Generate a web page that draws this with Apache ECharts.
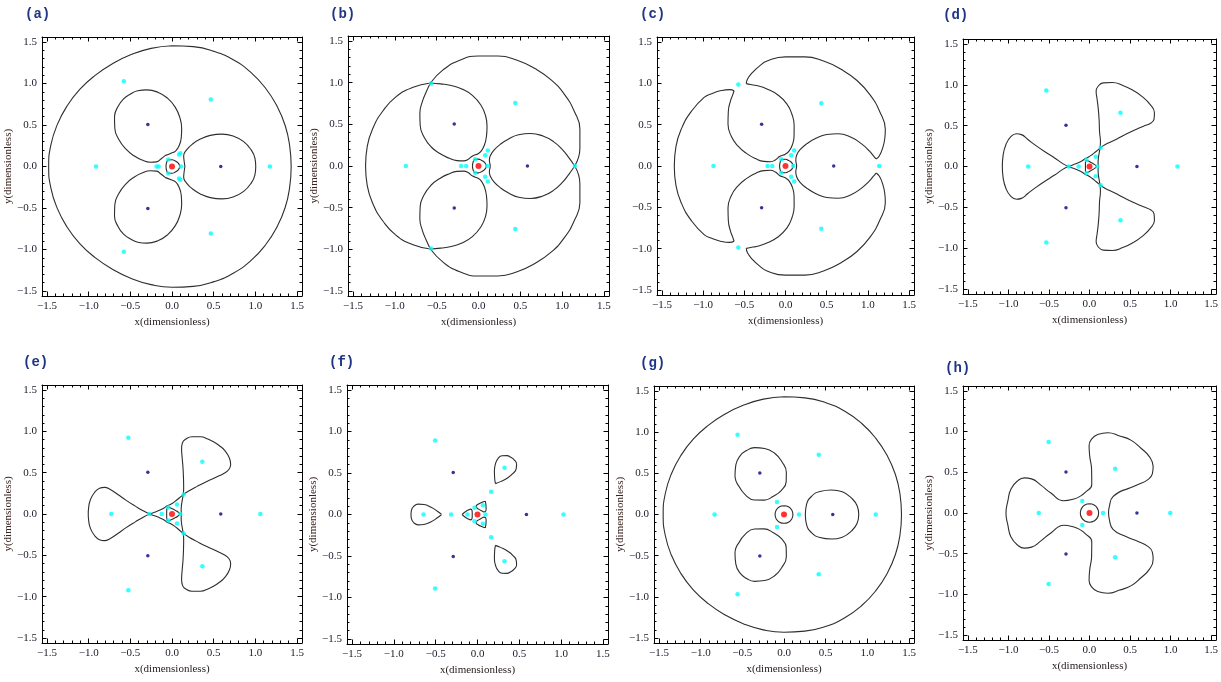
<!DOCTYPE html>
<html>
<head>
<meta charset="utf-8">
<script src="https://cdn.jsdelivr.net/npm/echarts@6/dist/echarts.min.js"></script>
<style>
  html, body { margin: 0; padding: 0; background: #fff; }
  #main { width: 1221px; height: 682px; }
</style>
</head>
<body>
<div id="main"></div>
<script>
// axis ticks
var MAJOR_TICKS = [-1.5, -1, -0.5, 0, 0.5, 1, 1.5];
var MINOR_TICKS = [-1.4, -1.3, -1.2, -1.1, -0.9, -0.8, -0.7, -0.6, -0.4, -0.3, -0.2, -0.1,
                   0.1, 0.2, 0.3, 0.4, 0.6, 0.7, 0.8, 0.9, 1.1, 1.2, 1.3, 1.4];
var PANEL_LABELS = ['(a)', '(b)', '(c)', '(d)', '(e)', '(f)', '(g)', '(h)'];

// bodies
var CENTRAL = [[0, 0]];
var PRIMARIES = [[0.585, 0], [-0.29, 0.505], [-0.29, -0.505]];

var CYAN_A = [[1.175, 0], [0.466, 0.808], [0.466, -0.808], [-0.912, 0], [-0.578, 1.026], [-0.578, -1.026],
  [0.108, 0], [-0.044, 0.084], [-0.044, -0.084], [-0.185, 0], [-0.16, 0], [0.085, 0.145], [0.1, 0.16], [0.085, -0.145], [0.1, -0.16]];
var CYAN_B = [[1.152, 0], [0.44, 0.755], [0.44, -0.755], [-0.868, 0], [-0.568, 0.99], [-0.568, -0.99],
  [0.104, 0], [-0.04, 0.08], [-0.04, -0.08], [-0.208, 0], [-0.148, 0], [0.08, 0.128], [0.112, 0.186], [0.08, -0.128], [0.112, -0.186]];
var CYAN_C = [[1.137, 0], [0.435, 0.758], [0.435, -0.758], [-0.875, 0], [-0.573, 0.986], [-0.573, -0.986],
  [0.093, 0], [-0.052, 0.081], [-0.052, -0.081], [-0.218, 0], [-0.161, 0], [0.069, 0.129], [0.105, 0.188], [0.069, -0.129], [0.105, -0.188]];
var CYAN_D = [[1.085, 0], [0.382, 0.659], [0.382, -0.659], [-0.756, 0], [-0.533, 0.93], [-0.533, -0.93],
  [0.098, 0], [-0.037, 0.079], [-0.037, -0.079], [-0.256, 0], [-0.134, 0], [0.077, 0.118], [0.138, 0.23], [0.077, -0.118], [0.138, -0.23]];
var CYAN_E = [[1.06, 0], [0.364, 0.633], [0.364, -0.633], [-0.728, 0], [-0.524, 0.922], [-0.524, -0.922],
  [0.1, 0], [-0.044, 0.078], [-0.044, -0.078], [-0.272, 0], [-0.124, 0], [0.06, 0.114], [0.14, 0.235], [0.06, -0.114], [0.14, -0.235]];
var CYAN_F = [[1.028, 0], [0.323, 0.564], [0.323, -0.564], [-0.645, 0], [-0.506, 0.892], [-0.506, -0.892],
  [0.096, 0], [-0.036, 0.08], [-0.036, -0.08], [-0.315, 0], [-0.12, 0], [0.064, 0.11], [0.163, 0.275], [0.064, -0.11], [0.163, -0.275]];
var CYAN_G = [[1.101, 0], [0.417, 0.726], [0.417, -0.726], [-0.833, 0], [-0.557, 0.969], [-0.557, -0.969],
  [0.18, 0], [-0.084, 0.151], [-0.084, -0.151]];
var CYAN_H = [[0.996, 0], [0.317, 0.543], [0.317, -0.543], [-0.626, 0], [-0.504, 0.873], [-0.504, -0.873],
  [0.167, 0], [-0.089, 0.148], [-0.089, -0.148]];

// zero-velocity curves, panel (a)
var A_OUTER = [[0,1.455],[-0.251,1.423],[-0.49,1.348],[-0.715,1.238],[-0.922,1.098],[-1.107,0.929],[-1.26,0.728],[-1.378,0.501],[-1.454,0.257],[-1.48,0],[-1.454,-0.257],[-1.378,-0.501],[-1.26,-0.728],[-1.107,-0.929],[-0.922,-1.098],[-0.715,-1.238],[-0.49,-1.348],[-0.251,-1.423],[0,-1.455],[0.255,-1.444],[0.505,-1.387],[0.74,-1.282],[0.949,-1.131],[1.123,-0.943],[1.26,-0.728],[1.358,-0.494],[1.412,-0.249],[1.43,0],[1.412,0.249],[1.358,0.494],[1.26,0.728],[1.123,0.943],[0.949,1.131],[0.74,1.282],[0.505,1.387],[0.255,1.444],[0,1.455]];
var RING_ABC = [[0.095,0],[0.075,0.04],[0.04,0.065],[0,0.082],[-0.045,0.08],[-0.065,0.045],[-0.072,0],[-0.065,-0.045],[-0.045,-0.08],[0,-0.082],[0.04,-0.065],[0.075,-0.04],[0.095,0]];
var A_LOBE_R = [[0.155,0],[0.145,0.07],[0.14,0.13],[0.175,0.2],[0.245,0.27],[0.34,0.33],[0.46,0.375],[0.6,0.39],[0.74,0.365],[0.86,0.3],[0.95,0.2],[0.995,0.1],[1.005,0],[0.995,-0.1],[0.95,-0.2],[0.86,-0.3],[0.74,-0.365],[0.6,-0.39],[0.46,-0.375],[0.34,-0.33],[0.245,-0.27],[0.175,-0.2],[0.14,-0.13],[0.145,-0.07],[0.155,0]];
var A_LOBE_U = [[-0.078,0.134],[-0.133,0.091],[-0.183,0.056],[-0.261,0.052],[-0.356,0.077],[-0.456,0.129],[-0.555,0.211],[-0.638,0.325],[-0.686,0.458],[-0.69,0.595],[-0.648,0.723],[-0.584,0.812],[-0.503,0.87],[-0.411,0.912],[-0.302,0.923],[-0.17,0.895],[-0.054,0.823],[0.038,0.715],[0.095,0.586],[0.116,0.459],[0.111,0.347],[0.086,0.252],[0.043,0.186],[-0.012,0.161],[-0.078,0.134]];
var A_LOBE_D = [[-0.078,-0.134],[-0.133,-0.091],[-0.183,-0.056],[-0.261,-0.052],[-0.356,-0.077],[-0.456,-0.129],[-0.555,-0.211],[-0.638,-0.325],[-0.686,-0.458],[-0.69,-0.595],[-0.648,-0.723],[-0.584,-0.812],[-0.503,-0.87],[-0.411,-0.912],[-0.302,-0.923],[-0.17,-0.895],[-0.054,-0.823],[0.038,-0.715],[0.095,-0.586],[0.116,-0.459],[0.111,-0.347],[0.086,-0.252],[0.043,-0.186],[-0.012,-0.161],[-0.078,-0.134]];

// panel (b)
var B_ARC_TOP = [[1.15,0],[1.212,0.214],[1.212,0.441],[1.143,0.66],[1.026,0.861],[0.868,1.034],[0.675,1.169],[0.462,1.269],[0.233,1.32],[0,1.32],[-0.224,1.27],[-0.421,1.156],[-0.575,0.996]];
var B_ARC_LEFT = [[-0.575,0.996],[-0.791,0.942],[-0.988,0.829],[-1.143,0.66],[-1.26,0.458],[-1.33,0.235],[-1.35,0],[-1.33,-0.235],[-1.26,-0.458],[-1.143,-0.66],[-0.988,-0.829],[-0.791,-0.942],[-0.575,-0.996]];
var B_ARC_BOTTOM = [[-0.575,-0.996],[-0.421,-1.156],[-0.224,-1.27],[0,-1.32],[0.233,-1.32],[0.462,-1.269],[0.675,-1.169],[0.868,-1.034],[1.026,-0.861],[1.143,-0.66],[1.212,-0.441],[1.212,-0.214],[1.15,0]];
var B_LOBE_R = [[1.15,0],[1.08,0.1],[1.0,0.2],[0.9,0.29],[0.77,0.36],[0.62,0.39],[0.48,0.375],[0.36,0.325],[0.26,0.26],[0.185,0.19],[0.14,0.12],[0.13,0.07],[0.14,0],[0.13,-0.07],[0.14,-0.12],[0.185,-0.19],[0.26,-0.26],[0.36,-0.325],[0.48,-0.375],[0.62,-0.39],[0.77,-0.36],[0.9,-0.29],[1.0,-0.2],[1.08,-0.1],[1.15,0]];
var B_LOBE_U = [[-0.575,0.996],[-0.627,0.885],[-0.673,0.766],[-0.701,0.634],[-0.697,0.487],[-0.648,0.342],[-0.565,0.228],[-0.462,0.149],[-0.355,0.095],[-0.257,0.065],[-0.174,0.061],[-0.126,0.078],[-0.07,0.121],[-0.004,0.148],[0.034,0.181],[0.072,0.255],[0.095,0.355],[0.102,0.474],[0.085,0.603],[0.028,0.732],[-0.073,0.847],[-0.199,0.924],[-0.327,0.966],[-0.453,0.985],[-0.575,0.996]];
var B_LOBE_D = [[-0.575,-0.996],[-0.627,-0.885],[-0.673,-0.766],[-0.701,-0.634],[-0.697,-0.487],[-0.648,-0.342],[-0.565,-0.228],[-0.462,-0.149],[-0.355,-0.095],[-0.257,-0.065],[-0.174,-0.061],[-0.126,-0.078],[-0.07,-0.121],[-0.004,-0.148],[0.034,-0.181],[0.072,-0.255],[0.095,-0.355],[0.102,-0.474],[0.085,-0.603],[0.028,-0.732],[-0.073,-0.847],[-0.199,-0.924],[-0.327,-0.966],[-0.453,-0.985],[-0.575,-0.996]];

// panel (c)
var C_LOBE_R = [[1.1,-0.085],[1.065,-0.125],[1.02,-0.18],[0.92,-0.27],[0.79,-0.35],[0.64,-0.39],[0.5,-0.38],[0.37,-0.335],[0.26,-0.27],[0.18,-0.2],[0.135,-0.13],[0.125,-0.07],[0.135,0],[0.125,0.07],[0.135,0.13],[0.18,0.2],[0.26,0.27],[0.37,0.335],[0.5,0.38],[0.64,0.39],[0.79,0.35],[0.92,0.27],[1.02,0.18],[1.065,0.125],[1.1,0.085]];
var C_LOBE_U = [[-0.476,0.996],[-0.424,0.985],[-0.354,0.973],[-0.226,0.932],[-0.092,0.859],[0.018,0.749],[0.079,0.623],[0.105,0.488],[0.104,0.36],[0.083,0.256],[0.045,0.182],[-0.002,0.143],[-0.068,0.117],[-0.123,0.073],[-0.18,0.052],[-0.263,0.056],[-0.364,0.09],[-0.475,0.153],[-0.579,0.243],[-0.658,0.359],[-0.698,0.509],[-0.694,0.662],[-0.666,0.793],[-0.641,0.86],[-0.624,0.91]];
var C_LOBE_D = [[-0.476,-0.996],[-0.424,-0.985],[-0.354,-0.973],[-0.226,-0.932],[-0.092,-0.859],[0.018,-0.749],[0.079,-0.623],[0.105,-0.488],[0.104,-0.36],[0.083,-0.256],[0.045,-0.182],[-0.002,-0.143],[-0.068,-0.117],[-0.123,-0.073],[-0.18,-0.052],[-0.263,-0.056],[-0.364,-0.09],[-0.475,-0.153],[-0.579,-0.243],[-0.658,-0.359],[-0.698,-0.509],[-0.694,-0.662],[-0.666,-0.793],[-0.641,-0.86],[-0.624,-0.91]];
var C_ARC_TOP = [[1.1,0.085],[1.14,0.125],[1.18,0.22],[1.205,0.33],[1.212,0.441],[1.143,0.66],[1.026,0.861],[0.868,1.034],[0.675,1.169],[0.462,1.269],[0.233,1.32],[0,1.32],[-0.224,1.27],[-0.317,1.208],[-0.399,1.132],[-0.462,1.05],[-0.476,0.996]];
var C_ARC_LEFT = [[-0.624,0.91],[-0.678,0.924],[-0.781,0.912],[-0.888,0.878],[-0.988,0.829],[-1.143,0.66],[-1.26,0.458],[-1.33,0.235],[-1.35,0],[-1.33,-0.235],[-1.26,-0.458],[-1.143,-0.66],[-0.988,-0.829],[-0.888,-0.878],[-0.781,-0.912],[-0.678,-0.924],[-0.624,-0.91]];
var C_ARC_BOTTOM = [[1.1,-0.085],[1.14,-0.125],[1.18,-0.22],[1.205,-0.33],[1.212,-0.441],[1.143,-0.66],[1.026,-0.861],[0.868,-1.034],[0.675,-1.169],[0.462,-1.269],[0.233,-1.32],[0,-1.32],[-0.224,-1.27],[-0.317,-1.208],[-0.399,-1.132],[-0.462,-1.05],[-0.476,-0.996]];

// panel (d)
var D_PETAL_L = [[-0.26,0],[-0.33,0.035],[-0.43,0.105],[-0.55,0.18],[-0.66,0.255],[-0.76,0.33],[-0.84,0.39],[-0.9,0.4],[-0.97,0.365],[-1.03,0.27],[-1.065,0.14],[-1.075,0],[-1.065,-0.14],[-1.03,-0.27],[-0.97,-0.365],[-0.9,-0.4],[-0.84,-0.39],[-0.76,-0.33],[-0.66,-0.255],[-0.55,-0.18],[-0.43,-0.105],[-0.33,-0.035],[-0.26,0]];
var D_PETAL_U = [[0.13,0.225],[0.195,0.268],[0.306,0.32],[0.431,0.386],[0.551,0.444],[0.666,0.493],[0.758,0.532],[0.796,0.579],[0.801,0.658],[0.749,0.757],[0.654,0.852],[0.538,0.931],[0.411,0.992],[0.281,1.027],[0.169,1.023],[0.104,0.979],[0.082,0.922],[0.094,0.823],[0.109,0.699],[0.119,0.566],[0.124,0.425],[0.135,0.303],[0.13,0.225]];
var D_PETAL_D = [[0.13,-0.225],[0.195,-0.268],[0.306,-0.32],[0.431,-0.386],[0.551,-0.444],[0.666,-0.493],[0.758,-0.532],[0.796,-0.579],[0.801,-0.658],[0.749,-0.757],[0.654,-0.852],[0.538,-0.931],[0.411,-0.992],[0.281,-1.027],[0.169,-1.023],[0.104,-0.979],[0.082,-0.922],[0.094,-0.823],[0.109,-0.699],[0.119,-0.566],[0.124,-0.425],[0.135,-0.303],[0.13,-0.225]];
var D_TRI_1 = [[-0.26,0],[-0.2,0.022],[-0.14,0.045],[-0.09,0.07],[-0.055,0.095],[-0.016,0.113],[0.031,0.144],[0.081,0.184],[0.13,0.225]];
var D_TRI_2 = [[0.13,0.225],[0.119,0.162],[0.109,0.099],[0.106,0.043],[0.11,0],[0.106,-0.043],[0.109,-0.099],[0.119,-0.162],[0.13,-0.225]];
var D_TRI_3 = [[0.13,-0.225],[0.081,-0.184],[0.031,-0.144],[-0.016,-0.113],[-0.055,-0.095],[-0.09,-0.07],[-0.14,-0.045],[-0.2,-0.022],[-0.26,0]];
var D_RING = [[0.09,0],[0.06,0.026],[0.025,0.045],[-0.01,0.066],[-0.04,0.075],[-0.05,0.055],[-0.05,0.02],[-0.05,-0.02],[-0.05,-0.055],[-0.04,-0.075],[-0.01,-0.066],[0.025,-0.045],[0.06,-0.026],[0.09,0]];

// panel (e)
var E_PETAL_L = [[-0.27,0],[-0.34,0.035],[-0.44,0.095],[-0.55,0.165],[-0.65,0.235],[-0.74,0.295],[-0.81,0.322],[-0.87,0.31],[-0.93,0.26],[-0.98,0.17],[-1.0,0.08],[-1.005,0],[-1.0,-0.08],[-0.98,-0.17],[-0.93,-0.26],[-0.87,-0.31],[-0.81,-0.322],[-0.74,-0.295],[-0.65,-0.235],[-0.55,-0.165],[-0.44,-0.095],[-0.34,-0.035],[-0.27,0]];
var E_PETAL_U = [[0.135,0.234],[0.2,0.277],[0.302,0.334],[0.418,0.394],[0.529,0.445],[0.626,0.493],[0.684,0.541],[0.704,0.598],[0.69,0.675],[0.637,0.764],[0.569,0.826],[0.503,0.87],[0.431,0.906],[0.343,0.934],[0.24,0.935],[0.167,0.908],[0.126,0.863],[0.115,0.788],[0.122,0.68],[0.132,0.559],[0.138,0.429],[0.14,0.312],[0.135,0.234]];
var E_PETAL_D = [[0.135,-0.234],[0.2,-0.277],[0.302,-0.334],[0.418,-0.394],[0.529,-0.445],[0.626,-0.493],[0.684,-0.541],[0.704,-0.598],[0.69,-0.675],[0.637,-0.764],[0.569,-0.826],[0.503,-0.87],[0.431,-0.906],[0.343,-0.934],[0.24,-0.935],[0.167,-0.908],[0.126,-0.863],[0.115,-0.788],[0.122,-0.68],[0.132,-0.559],[0.138,-0.429],[0.14,-0.312],[0.135,-0.234]];
var E_TRI_1 = [[-0.27,0],[-0.21,0.022],[-0.145,0.047],[-0.095,0.072],[-0.057,0.099],[-0.015,0.118],[0.032,0.149],[0.086,0.193],[0.135,0.234]];
var E_TRI_2 = [[0.135,0.234],[0.124,0.171],[0.113,0.102],[0.11,0.046],[0.114,0],[0.11,-0.046],[0.113,-0.102],[0.124,-0.171],[0.135,-0.234]];
var E_TRI_3 = [[0.135,-0.234],[0.086,-0.193],[0.032,-0.149],[-0.015,-0.118],[-0.057,-0.099],[-0.095,-0.072],[-0.145,-0.047],[-0.21,-0.022],[-0.27,0]];
var E_RING = [[0.1,0],[0.065,0.03],[0.03,0.05],[-0.01,0.07],[-0.045,0.085],[-0.062,0.06],[-0.064,0.02],[-0.064,-0.02],[-0.062,-0.06],[-0.045,-0.085],[-0.01,-0.07],[0.03,-0.05],[0.065,-0.03],[0.1,0]];

// panel (f)
var F_DROP_L = [[-0.43,0],[-0.48,0.04],[-0.56,0.09],[-0.64,0.12],[-0.71,0.125],[-0.76,0.1],[-0.79,0.05],[-0.795,0],[-0.79,-0.05],[-0.76,-0.1],[-0.71,-0.125],[-0.64,-0.12],[-0.56,-0.09],[-0.48,-0.04],[-0.43,0]];
var F_DROP_U = [[0.215,0.372],[0.275,0.396],[0.358,0.44],[0.424,0.494],[0.463,0.552],[0.467,0.608],[0.438,0.659],[0.398,0.689],[0.352,0.709],[0.293,0.708],[0.247,0.677],[0.216,0.614],[0.202,0.53],[0.205,0.436],[0.215,0.372]];
var F_DROP_D = [[0.215,-0.372],[0.275,-0.396],[0.358,-0.44],[0.424,-0.494],[0.463,-0.552],[0.467,-0.608],[0.438,-0.659],[0.398,-0.689],[0.352,-0.709],[0.293,-0.708],[0.247,-0.677],[0.216,-0.614],[0.202,-0.53],[0.205,-0.436],[0.215,-0.372]];
var F_SMALL_L = [[-0.185,0],[-0.15,0.03],[-0.11,0.055],[-0.08,0.065],[-0.066,0.05],[-0.063,0.02],[-0.063,-0.02],[-0.066,-0.05],[-0.08,-0.065],[-0.11,-0.055],[-0.15,-0.03],[-0.185,0]];
var F_SMALL_U = [[0.093,0.16],[0.101,0.115],[0.103,0.068],[0.096,0.037],[0.076,0.032],[0.049,0.045],[0.014,0.065],[-0.01,0.082],[-0.016,0.102],[0.007,0.123],[0.049,0.145],[0.093,0.16]];
var F_SMALL_D = [[0.093,-0.16],[0.101,-0.115],[0.103,-0.068],[0.096,-0.037],[0.076,-0.032],[0.049,-0.045],[0.014,-0.065],[-0.01,-0.082],[-0.016,-0.102],[0.007,-0.123],[0.049,-0.145],[0.093,-0.16]];

// panel (g)
var G_OUTER = [[0,1.43],[-0.247,1.401],[-0.483,1.328],[-0.705,1.221],[-0.909,1.082],[-1.089,0.914],[-1.238,0.715],[-1.352,0.492],[-1.425,0.252],[-1.45,0],[-1.425,-0.252],[-1.352,-0.492],[-1.238,-0.715],[-1.089,-0.914],[-0.909,-1.082],[-0.705,-1.221],[-0.483,-1.328],[-0.247,-1.401],[0,-1.43],[0.25,-1.416],[0.495,-1.36],[0.725,-1.256],[0.93,-1.108],[1.102,-0.925],[1.238,-0.715],[1.337,-0.486],[1.392,-0.246],[1.41,0],[1.392,0.246],[1.337,0.486],[1.238,0.715],[1.102,0.925],[0.93,1.108],[0.725,1.256],[0.495,1.36],[0.25,1.416],[0,1.43]];
var G_RING = [[0,0.107],[-0.054,0.093],[-0.093,0.054],[-0.107,0],[-0.093,-0.054],[-0.054,-0.093],[0,-0.107],[0.054,-0.093],[0.093,-0.054],[0.107,0],[0.093,0.054],[0.054,0.093],[0,0.107]];
var G_OVAL_R = [[0.57,0.298],[0.43,0.28],[0.33,0.22],[0.27,0.12],[0.256,0],[0.27,-0.12],[0.33,-0.22],[0.43,-0.28],[0.57,-0.298],[0.7,-0.275],[0.81,-0.2],[0.88,-0.1],[0.897,0],[0.88,0.1],[0.81,0.2],[0.7,0.275],[0.57,0.298]];
var G_OVAL_U = [[-0.543,0.345],[-0.588,0.469],[-0.578,0.602],[-0.527,0.712],[-0.449,0.777],[-0.353,0.812],[-0.232,0.802],[-0.112,0.744],[-0.027,0.643],[0.028,0.512],[0.026,0.396],[-0.031,0.294],[-0.128,0.222],[-0.239,0.174],[-0.356,0.176],[-0.458,0.232],[-0.543,0.345]];
var G_OVAL_D = [[-0.543,-0.345],[-0.588,-0.469],[-0.578,-0.602],[-0.527,-0.712],[-0.449,-0.777],[-0.353,-0.812],[-0.232,-0.802],[-0.112,-0.744],[-0.027,-0.643],[0.028,-0.512],[0.026,-0.396],[-0.031,-0.294],[-0.128,-0.222],[-0.239,-0.174],[-0.356,-0.176],[-0.458,-0.232],[-0.543,-0.345]];

// panel (h)
var H_SHAPE = [[0.45,0.29],[0.6,0.35],[0.72,0.41],[0.775,0.48],[0.785,0.57],[0.74,0.69],[0.635,0.795],[0.515,0.892],[0.371,0.947],[0.228,0.986],[0.101,0.965],[0.028,0.911],[-0.005,0.829],[0.003,0.695],[0.026,0.535],[0.028,0.351],[-0.053,0.252],[-0.118,0.204],[-0.192,0.172],[-0.318,0.151],[-0.476,0.245],[-0.603,0.345],[-0.715,0.419],[-0.803,0.431],[-0.886,0.395],[-0.968,0.296],[-1.006,0.152],[-1.03,0],[-1.006,-0.152],[-0.968,-0.296],[-0.886,-0.395],[-0.803,-0.431],[-0.715,-0.419],[-0.603,-0.345],[-0.476,-0.245],[-0.318,-0.151],[-0.192,-0.172],[-0.118,-0.204],[-0.053,-0.252],[0.028,-0.351],[0.026,-0.535],[0.003,-0.695],[-0.005,-0.829],[0.028,-0.911],[0.101,-0.965],[0.228,-0.986],[0.371,-0.947],[0.515,-0.892],[0.635,-0.795],[0.74,-0.69],[0.785,-0.57],[0.775,-0.48],[0.72,-0.41],[0.6,-0.35],[0.45,-0.29],[0.29,-0.2],[0.245,-0.08],[0.235,0],[0.245,0.08],[0.29,0.2],[0.45,0.29]];
var H_RING = [[0,0.113],[-0.057,0.098],[-0.098,0.057],[-0.113,0],[-0.098,-0.057],[-0.057,-0.098],[0,-0.113],[0.057,-0.098],[0.098,-0.057],[0.113,0],[0.098,0.057],[0.057,0.098],[0,0.113]];

var PANEL_CURVES = [
  [A_OUTER, RING_ABC, A_LOBE_R, A_LOBE_U, A_LOBE_D],
  [B_ARC_TOP, B_ARC_LEFT, B_ARC_BOTTOM, B_LOBE_R, B_LOBE_U, B_LOBE_D, RING_ABC],
  [C_LOBE_R, C_LOBE_U, C_LOBE_D, C_ARC_TOP, C_ARC_LEFT, C_ARC_BOTTOM, RING_ABC],
  [D_PETAL_L, D_PETAL_U, D_PETAL_D, D_TRI_1, D_TRI_2, D_TRI_3, D_RING],
  [E_PETAL_L, E_PETAL_U, E_PETAL_D, E_TRI_1, E_TRI_2, E_TRI_3, E_RING],
  [F_DROP_L, F_DROP_U, F_DROP_D, F_SMALL_L, F_SMALL_U, F_SMALL_D],
  [G_OUTER, G_RING, G_OVAL_R, G_OVAL_U, G_OVAL_D],
  [H_SHAPE, H_RING]
];
var PANEL_CYAN = [CYAN_A, CYAN_B, CYAN_C, CYAN_D, CYAN_E, CYAN_F, CYAN_G, CYAN_H];

// layout: plot boxes [left, top, width, height] and label spots
var BOXES = [[42,37,260,259],[348,36,261,260],[657,37,257,258],[963,39,256,255],
             [42,385,260,258],[347,385,261,259],[654,386,260,257],[963,386,255,254]];
var LABEL_AT = [[20,2],[325,2],[635,2],[938,3],[18,350],[324,350],[635,351],[940,356]];
var SHOW_Y_NAME = [true, true, false, true, true, true, true, true];

var AXIS_MIN = -1.56, AXIS_MAX = 1.56;
var SERIF = "'Liberation Serif', 'DejaVu Serif', serif";

function fmt(v) {
  return (v < 0 ? '\u2212' : '') + Math.abs(v).toFixed(1);
}

function axisSet(i, side, major, withText) {
  var isX = side === 'bottom' || side === 'top';
  var a = {
    gridIndex: i,
    type: 'value',
    min: AXIS_MIN,
    max: AXIS_MAX,
    position: side,
    splitLine: { show: false },
    axisLine: { show: major, onZero: false, lineStyle: { color: '#000', width: 1 } },
    axisTick: {
      show: true, inside: true, length: major ? 4.5 : 2.5,
      customValues: major ? MAJOR_TICKS : MINOR_TICKS,
      lineStyle: { color: '#000', width: 1 }
    },
    axisLabel: { show: false }
  };
  if (withText) {
    a.axisLabel = {
      show: true, customValues: MAJOR_TICKS, formatter: fmt,
      fontFamily: SERIF, fontSize: 11, color: '#1a1a2a', margin: 5
    };
    if (isX) {
      a.name = 'x(dimensionless)';
      a.nameLocation = 'middle';
      a.nameGap = 21;
      a.nameTextStyle = { fontFamily: SERIF, fontSize: 11, color: '#2a2020' };
    } else if (SHOW_Y_NAME[i]) {
      a.name = 'y(dimensionless)';
      a.nameLocation = 'middle';
      a.nameRotate = 90;
      a.nameGap = 24;
      a.nameTextStyle = { fontFamily: SERIF, fontSize: 11, color: '#3a2420' };
    }
  }
  return a;
}

var grids = [], xAxes = [], yAxes = [], series = [], titles = [];
for (var i = 0; i < 8; i++) {
  var b = BOXES[i];
  grids.push({ left: b[0], top: b[1], width: b[2], height: b[3], containLabel: false });
  xAxes.push(axisSet(i, 'bottom', true, true));
  xAxes.push(axisSet(i, 'bottom', false, false));
  xAxes.push(axisSet(i, 'top', true, false));
  xAxes.push(axisSet(i, 'top', false, false));
  yAxes.push(axisSet(i, 'left', true, true));
  yAxes.push(axisSet(i, 'left', false, false));
  yAxes.push(axisSet(i, 'right', true, false));
  yAxes.push(axisSet(i, 'right', false, false));
  titles.push({
    text: PANEL_LABELS[i], left: LABEL_AT[i][0], top: LABEL_AT[i][1],
    textStyle: { fontFamily: "'Liberation Mono', 'DejaVu Sans Mono', monospace", fontSize: 14, fontWeight: 'bold', color: '#1f3585' }
  });
  PANEL_CURVES[i].forEach(function (curve) {
    series.push({
      type: 'line', xAxisIndex: i * 4, yAxisIndex: i * 4, data: curve,
      showSymbol: false, symbol: 'none', smooth: 0.5, silent: true, z: 2,
      lineStyle: { color: '#2e2e2e', width: 1.1 }
    });
  });
  series.push({
    type: 'scatter', xAxisIndex: i * 4, yAxisIndex: i * 4, data: PANEL_CYAN[i],
    symbolSize: 4.5, itemStyle: { color: '#00ffff' }, silent: true, z: 4
  });
  series.push({
    type: 'scatter', xAxisIndex: i * 4, yAxisIndex: i * 4, data: PRIMARIES,
    symbolSize: 3.5, itemStyle: { color: '#000080' }, silent: true, z: 4
  });
  series.push({
    type: 'scatter', xAxisIndex: i * 4, yAxisIndex: i * 4, data: CENTRAL,
    symbolSize: 6, itemStyle: { color: '#ff0000' }, silent: true, z: 5
  });
}

var chart = echarts.init(document.getElementById('main'));
chart.setOption({
  animation: false,
  backgroundColor: '#ffffff',
  title: titles,
  grid: grids,
  xAxis: xAxes,
  yAxis: yAxes,
  series: series
});
</script>
</body>
</html>
